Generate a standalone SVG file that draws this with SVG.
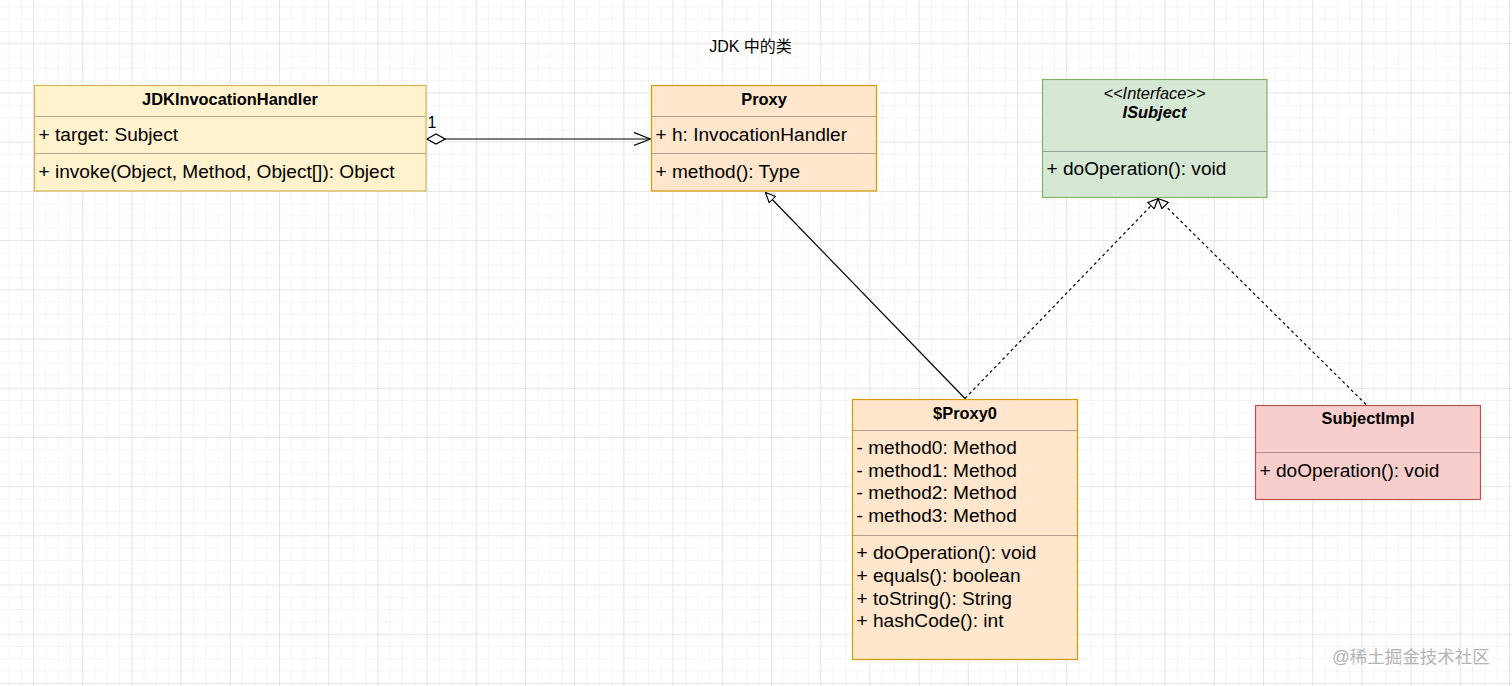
<svg xmlns="http://www.w3.org/2000/svg" width="1512" height="686" viewBox="0 0 1512 686">
  <style>
    .box { stroke-width: 1.2; }
    .sep { stroke: #000; stroke-opacity: 0.3; stroke-width: 1; }
    .hdr { font-family: "Liberation Sans", Arial, Helvetica, sans-serif; font-size: 16.4px; font-weight: bold; fill: #000; text-anchor: middle; }
    .mem { font-family: "Liberation Sans", Arial, Helvetica, sans-serif; font-size: 19.1px; fill: #000; }
    .ital { font-family: "Liberation Sans", Arial, Helvetica, sans-serif; font-size: 16.4px; font-style: italic; fill: #000; text-anchor: middle; }
    .edge { fill: none; stroke: #000; stroke-width: 1.2; }
    .dash { stroke-dasharray: 3 3; }
    .title { font-family: "Liberation Sans", "Noto Sans CJK SC", sans-serif; font-size: 16px; fill: #000; text-anchor: middle; }
    .wm { font-family: "Liberation Sans", "Noto Sans CJK SC", sans-serif; font-size: 17.5px; fill: #b4b4b4; }
  </style>
  <defs>
    <pattern id="minor" x="33" y="43.3" width="12.3" height="12.3" patternUnits="userSpaceOnUse">
      <path d="M0,0 H12.3 M0,0 V12.3" stroke="#ececec" stroke-width="1" fill="none"/>
    </pattern>
    <pattern id="major" x="33" y="43.3" width="49.2" height="49.2" patternUnits="userSpaceOnUse">
      <path d="M0,0 H49.2 M0,0 V49.2" stroke="#d8d8d8" stroke-width="1" fill="none"/>
    </pattern>
    <marker id="tri" viewBox="0 0 11 10" refX="10.5" refY="5" markerWidth="11" markerHeight="10" markerUnits="userSpaceOnUse" orient="auto">
      <path d="M0.5,0.5 L10.5,5 L0.5,9.5 Z" fill="#fff" stroke="#000" stroke-width="1.2" stroke-dasharray="none"/>
    </marker>
    <marker id="open" viewBox="0 0 18 15" refX="17" refY="7.5" markerWidth="18" markerHeight="15" markerUnits="userSpaceOnUse" orient="auto">
      <path d="M0.5,1 L17,7.5 L0.5,14" fill="none" stroke="#000" stroke-width="1.2"/>
    </marker>
    <marker id="dia" viewBox="0 0 20 12" refX="1" refY="6" markerWidth="20" markerHeight="12" markerUnits="userSpaceOnUse" orient="auto">
      <path d="M1,6 L10,1 L19,6 L10,11 Z" fill="#fff" stroke="#000" stroke-width="1.2"/>
    </marker>
  </defs>

  <rect x="0" y="0" width="1512" height="686" fill="#fff"/>
  <rect x="0" y="0" width="1512" height="686" fill="url(#minor)"/>
  <rect x="0" y="0" width="1512" height="686" fill="url(#major)"/>

  <text class="title" x="750.5" y="51.5">JDK 中的类</text>

  <g id="connectors">
    <path class="edge" d="M427,139 L650.5,139" marker-start="url(#dia)" marker-end="url(#open)"/>
    <text x="427.5" y="128" font-family="Liberation Sans, Arial, sans-serif" font-size="16px" fill="#000">1</text>
    <path class="edge" d="M965,398.5 L765.5,192.5" marker-end="url(#tri)"/>
    <path class="edge dash" d="M965,398.5 L1158,198.5" marker-end="url(#tri)"/>
    <path class="edge dash" d="M1366,404.5 L1158,198.5" marker-end="url(#tri)"/>
  </g>

  <g id="JDKInvocationHandler">
    <rect class="box" x="34.5" y="85.5" width="391.5" height="105.5" fill="#fff2cc" stroke="#d6b656"/>
    <line class="sep" x1="35" y1="116.5" x2="425.5" y2="116.5"/>
    <line class="sep" x1="35" y1="153.5" x2="425.5" y2="153.5"/>
    <text class="hdr" x="230" y="105">JDKInvocationHandler</text>
    <text class="mem" x="38.5" y="141">+ target: Subject</text>
    <text class="mem" x="38.5" y="177.7">+ invoke(Object, Method, Object[]): Object</text>
  </g>

  <g id="Proxy">
    <rect class="box" x="651.5" y="85.5" width="225" height="105.5" fill="#ffe6cc" stroke="#d79b00"/>
    <line class="sep" x1="652" y1="116.5" x2="876" y2="116.5"/>
    <line class="sep" x1="652" y1="153.5" x2="876" y2="153.5"/>
    <text class="hdr" x="764" y="105">Proxy</text>
    <text class="mem" x="655.5" y="140.5">+ h: InvocationHandler</text>
    <text class="mem" x="655.5" y="177.5">+ method(): Type</text>
  </g>

  <g id="ISubject">
    <rect class="box" x="1042.5" y="79.5" width="224.5" height="118" fill="#d5e8d4" stroke="#82b366"/>
    <line class="sep" x1="1043" y1="151.5" x2="1266.5" y2="151.5"/>
    <text class="ital" x="1154.5" y="98.5">&lt;&lt;Interface&gt;&gt;</text>
    <text class="hdr" x="1154.5" y="117.7" font-style="italic">ISubject</text>
    <text class="mem" x="1046.5" y="175">+ doOperation(): void</text>
  </g>

  <g id="Proxy0">
    <rect class="box" x="852.5" y="399.5" width="225" height="260" fill="#ffe6cc" stroke="#d79b00"/>
    <line class="sep" x1="853" y1="430.5" x2="1077" y2="430.5"/>
    <line class="sep" x1="853" y1="535.5" x2="1077" y2="535.5"/>
    <text class="hdr" x="965" y="419.3">$Proxy0</text>
    <text class="mem" x="856.5" y="454.3">- method0: Method</text>
    <text class="mem" x="856.5" y="476.8">- method1: Method</text>
    <text class="mem" x="856.5" y="499.3">- method2: Method</text>
    <text class="mem" x="856.5" y="521.8">- method3: Method</text>
    <text class="mem" x="856.5" y="559.3">+ doOperation(): void</text>
    <text class="mem" x="856.5" y="582">+ equals(): boolean</text>
    <text class="mem" x="856.5" y="604.8">+ toString(): String</text>
    <text class="mem" x="856.5" y="627.4">+ hashCode(): int</text>
  </g>

  <g id="SubjectImpl">
    <rect class="box" x="1255.5" y="405.5" width="225" height="94" fill="#f8cecc" stroke="#b85450"/>
    <line class="sep" x1="1256" y1="452.5" x2="1480" y2="452.5"/>
    <text class="hdr" x="1368" y="424.3">SubjectImpl</text>
    <text class="mem" x="1259.5" y="476.7">+ doOperation(): void</text>
  </g>

  <text class="wm" x="1332" y="663">@稀土掘金技术社区</text>
</svg>
